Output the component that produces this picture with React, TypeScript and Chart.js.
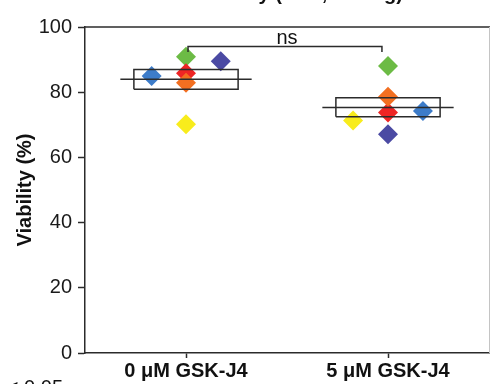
import React, { useEffect, useRef } from "react";
import { Chart, registerables } from "chart.js";

Chart.register(...registerables);

const FONT = "'Liberation Sans', Arial, Helvetica, sans-serif";

// Categories and tick labels
const categories = ["0 μM GSK-J4", "5 μM GSK-J4"];
const yTicks = [0, 20, 40, 60, 80, 100];

// Per-donor viability values (%) for [0 μM, 5 μM]
const blueValues = [85.0, 74.2];
const greenValues = [90.9, 88.0];
const navyValues = [89.5, 67.1];
const redValues = [85.8, 73.8];
const orangeValues = [82.9, 78.6];
const yellowValues = [70.2, 71.3];

// Horizontal spread of each donor's point within its category
const blueJitter = [-0.17, 0.173];
const greenJitter = [0.0, 0.0];
const navyJitter = [0.172, 0.0];
const redJitter = [0.0, 0.0];
const orangeJitter = [0.0, 0.0];
const yellowJitter = [0.0, -0.173];

// Box summaries
const boxLow = [80.9, 72.5];
const boxHigh = [87.0, 78.3];
const medians = [84.0, 75.3];

// Significance bracket
const bracketFrom = 0.01;
const bracketTo = 0.97;
const bracketLevel = 94.0;
const bracketFoot = 92.3;
const sigText = "ns";

const titleText = "Cell Viability (48 h, 100 ng)";
const footText = "p < 0.05";

const BOX_HALF = 0.258;
const MED_HALF = 0.325;
const LINE = "#2b2b2b";

export default function App() {
  const ref = useRef<HTMLCanvasElement | null>(null);

  useEffect(() => {
    if (!ref.current) return;

    const donors = [
      { v: orangeValues, j: orangeJitter, c: "#f26f21", order: 1 },
      { v: redValues, j: redJitter, c: "#ee2524", order: 2 },
      { v: greenValues, j: greenJitter, c: "#6cbb45", order: 3 },
      { v: navyValues, j: navyJitter, c: "#4b4aa3", order: 4 },
      { v: blueValues, j: blueJitter, c: "#3d7cc9", order: 5 },
      { v: yellowValues, j: yellowJitter, c: "#f8ec1c", order: 6 },
    ];

    const donorSets = donors.map((d) => ({
      data: d.v.map((y, i) => ({ x: i + d.j[i], y })),
      pointStyle: "rectRot",
      pointRadius: 10,
      pointHoverRadius: 10,
      pointBorderWidth: 0,
      borderWidth: 0,
      backgroundColor: d.c,
      pointBackgroundColor: d.c,
      showLine: false,
      order: d.order,
    }));

    const lineStyle = {
      showLine: true,
      pointRadius: 0,
      pointHoverRadius: 0,
      borderColor: LINE,
      borderWidth: 1.5,
      fill: false,
      tension: 0,
      order: 0,
    };

    const boxSets = categories.map((_, i) => ({
      ...lineStyle,
      data: [
        { x: i - BOX_HALF, y: boxLow[i] },
        { x: i + BOX_HALF, y: boxLow[i] },
        { x: i + BOX_HALF, y: boxHigh[i] },
        { x: i - BOX_HALF, y: boxHigh[i] },
        { x: i - BOX_HALF, y: boxLow[i] },
      ],
    }));

    const medianSets = categories.map((_, i) => ({
      ...lineStyle,
      data: [
        { x: i - MED_HALF, y: medians[i] },
        { x: i + MED_HALF, y: medians[i] },
      ],
    }));

    const bracketSet = {
      ...lineStyle,
      data: [
        { x: bracketFrom, y: bracketFoot },
        { x: bracketFrom, y: bracketLevel },
        { x: bracketTo, y: bracketLevel },
        { x: bracketTo, y: bracketFoot },
      ],
    };

    const decor = {
      id: "decor",
      afterDraw(chart: any) {
        const { ctx, chartArea } = chart;
        const xs = chart.scales.x;
        const ys = chart.scales.y;
        ctx.save();
        // top frame line
        ctx.strokeStyle = LINE;
        ctx.lineWidth = 1.5;
        ctx.beginPath();
        ctx.moveTo(chartArea.left, chartArea.top);
        ctx.lineTo(chartArea.right + 1, chartArea.top);
        ctx.stroke();
        // right frame line (light)
        ctx.strokeStyle = "#c4c4c4";
        ctx.lineWidth = 1;
        ctx.beginPath();
        ctx.moveTo(chartArea.right + 0.5, chartArea.top);
        ctx.lineTo(chartArea.right + 0.5, chartArea.bottom);
        ctx.stroke();
        // significance label
        ctx.fillStyle = "#111";
        ctx.font = `20px ${FONT}`;
        ctx.textAlign = "center";
        ctx.textBaseline = "alphabetic";
        ctx.fillText(
          sigText,
          xs.getPixelForValue((bracketFrom + bracketTo) / 2 + 0.01),
          ys.getPixelForValue(bracketLevel) - 3
        );
        // title (mostly cut off at the top)
        ctx.font = `bold 20px ${FONT}`;
        ctx.textAlign = "right";
        ctx.fillText(titleText, 403, 0);
        // footnote (cut off at the bottom)
        ctx.font = `20px ${FONT}`;
        ctx.textAlign = "right";
        ctx.fillText(footText, 63, 394);
        ctx.restore();
      },
    };

    const chart = new Chart(ref.current, {
      type: "scatter",
      data: { datasets: [bracketSet, ...boxSets, ...medianSets, ...donorSets] as any },
      options: {
        animation: false,
        responsive: false,
        devicePixelRatio: 1,
        layout: { autoPadding: false, padding: { top: 27, right: 1, left: 0, bottom: 0 } },
        plugins: {
          legend: { display: false },
          tooltip: { enabled: false },
          title: { display: false },
        },
        events: [],
        scales: {
          x: {
            type: "linear",
            min: -0.5,
            max: 1.5,
            afterBuildTicks: (s: any) => {
              s.ticks = categories.map((_, i) => ({ value: i }));
            },
            afterFit: (s: any) => {
              s.height = 31;
              s.paddingLeft = 0;
              s.paddingRight = 0;
            },
            ticks: {
              autoSkip: false,
              maxRotation: 0,
              padding: 1,
              color: "#111",
              font: { family: FONT, size: 20, weight: "bold" },
              callback: (v: any) => categories[Math.round(Number(v))] ?? "",
            },
            grid: {
              drawOnChartArea: false,
              tickLength: 5,
              tickColor: LINE,
              tickWidth: 1.5,
            },
            border: { color: LINE, width: 1.5 },
          },
          y: {
            min: 0,
            max: 100,
            afterBuildTicks: (s: any) => {
              s.ticks = yTicks.map((v) => ({ value: v }));
            },
            afterFit: (s: any) => {
              s.width = 85;
            },
            ticks: {
              padding: 6,
              color: "#1a1a1a",
              font: { family: FONT, size: 20 },
            },
            grid: {
              drawOnChartArea: false,
              tickLength: 7,
              tickColor: LINE,
              tickWidth: 1.5,
            },
            border: { color: LINE, width: 1.5 },
            title: {
              display: true,
              text: "Viability (%)",
              color: "#111",
              font: { family: FONT, size: 20, weight: "bold", lineHeight: 1.2 },
              padding: { top: 13, bottom: 0 },
            },
          },
        },
      } as any,
      plugins: [decor],
    });

    return () => chart.destroy();
  }, []);

  return (
    <div style={{ position: "absolute", left: 0, top: 0, width: 490, height: 384, background: "#fff" }}>
      <canvas ref={ref} width={490} height={384} style={{ display: "block" }} />
    </div>
  );
}
